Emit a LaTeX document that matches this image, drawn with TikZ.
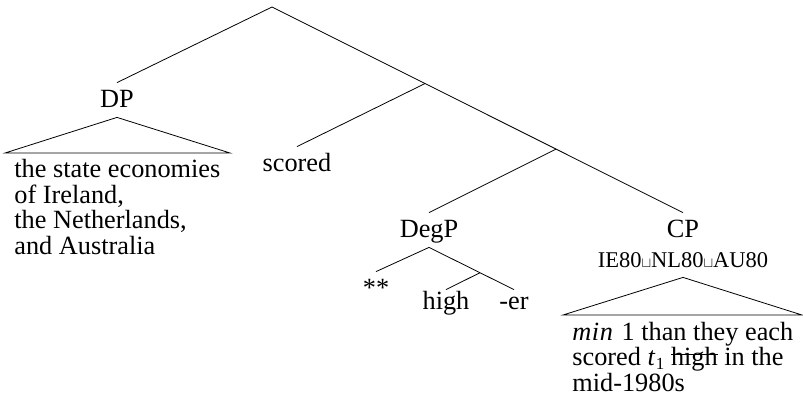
\documentclass[tikz,border=0pt]{standalone}
\usepackage{fontspec}
\setmainfont{Liberation Serif}
\usetikzlibrary{calc}
\newcommand\mystrike[1]{\setbox0=\hbox{#1}\rlap{\rule[10.5pt]{\wd0}{0.9pt}}\box0\relax}
\begin{document}
\begin{tikzpicture}[x=1pt,y=-1pt,line width=0.8pt,
  every node/.style={font=\fontsize{26.3}{25}\selectfont},
  lbl/.style={text height=18pt,text depth=4pt,inner xsep=2pt,inner ysep=6pt},
  lowleaf/.style={text height=18pt,text depth=4pt,inner xsep=2pt,inner ysep=1pt},
  smalllbl/.style={lbl,font=\fontsize{22.5}{22}\selectfont},
  block/.style={inner sep=0pt,anchor=base west}]
\useasboundingbox (0,0) rectangle (803,410);

% labels
\coordinate (root) at (272,7);
\node[lbl,anchor=base] (dp) at (117,107) {DP};
\node[lbl,anchor=base] (scored) at (297,171) {scored};
\node[lbl,anchor=base] (degp) at (429,237) {DegP};
\node[lbl,anchor=base] (cp) at (683,237) {CP};
\node[smalllbl,anchor=base] (ie) at (683,267) {IE80$\scriptstyle\sqcup$NL80$\scriptstyle\sqcup$AU80};
\node[lbl,anchor=base] (ast) at (376,296) {**};
\node[lowleaf,anchor=base] (high) at (446,309) {high};
\node[lowleaf,anchor=base] (er) at (514,309) {-er};

% branching points
\coordinate (n1) at ($(root)!0.3723!(cp.north)$);
\coordinate (n2) at ($(root)!0.691!(cp.north)$);
\coordinate (d1) at ($(degp.south)!0.6!(er.north)$);

% branches
\draw (root) -- (dp.north);
\draw (root) -- (cp.north);
\draw (n1) -- (scored.north);
\draw (n2) -- (degp.north);
\draw (degp.south) -- (ast.north);
\draw (degp.south) -- (er.north);
\draw (d1) -- (high.north);

% DP triangle
\coordinate (dpL) at (5,153);
\coordinate (dpR) at (230,153);
\draw (dp.south) -- (dpR) -- (dpL) -- cycle;
\node[block] (dptxt) at (14,177) {\begin{tabular}[t]{@{}l@{}}the state economies\\ of Ireland,\\ the Netherlands,\\ and Australia\end{tabular}};

% CP triangle
\coordinate (cpL) at (563,315);
\coordinate (cpR) at (802,315);
\draw (ie.south) -- (cpR) -- (cpL) -- cycle;
\node[block] (cptxt) at (572,340) {\begin{tabular}[t]{@{}l@{}}\textit{m\kern0.6pt i\kern0.6pt n}\kern2pt\ 1 than they each\\ scored \textit{t}\kern0.5pt\raisebox{-3.5pt}{\fontsize{17}{17}\selectfont 1} \mystrike{high} in the\\ mid-1980s\end{tabular}};
\end{tikzpicture}
\end{document}
